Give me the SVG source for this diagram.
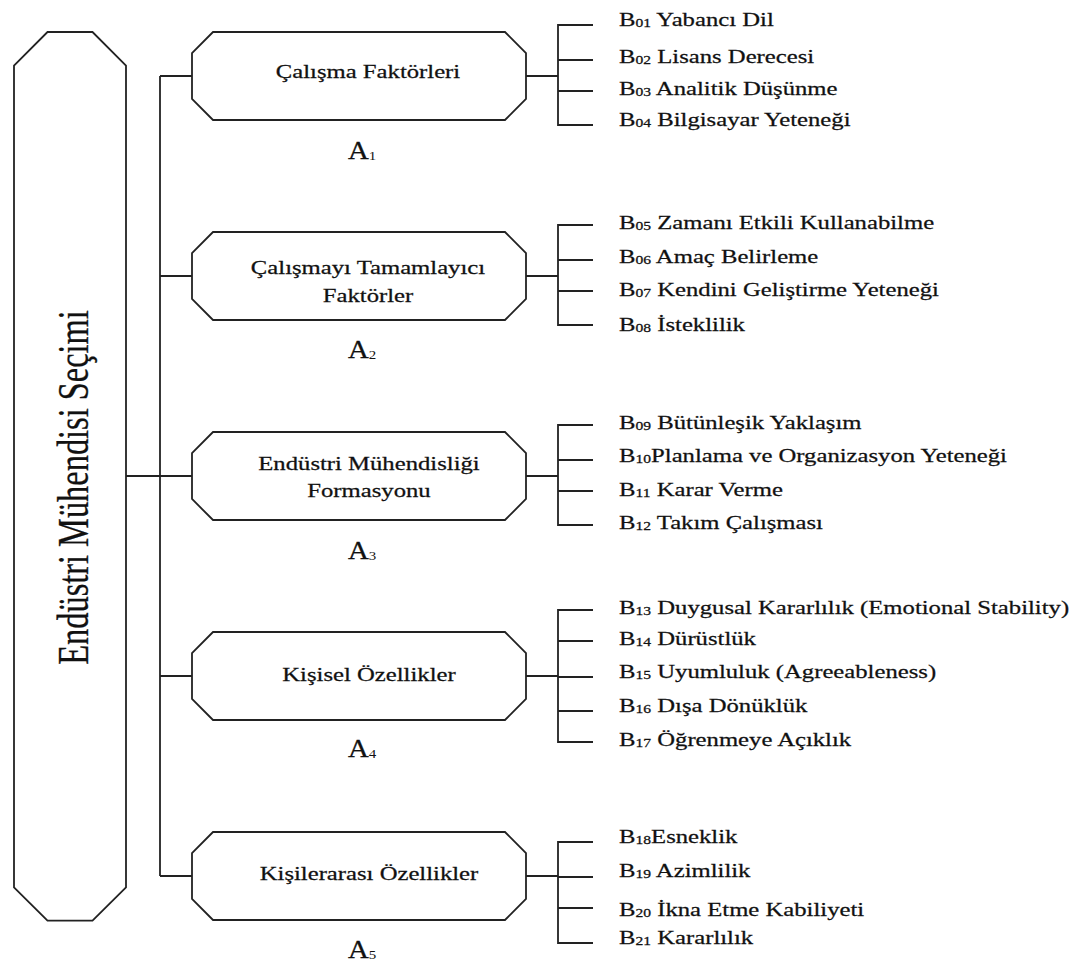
<svg xmlns="http://www.w3.org/2000/svg" xmlns:xlink="http://www.w3.org/1999/xlink" width="1084" height="965" viewBox="0 0 1084 965">
  <style>
    .ln{fill:none;stroke:#222;stroke-width:1.8}
    .box{fill:#fff;stroke:#222;stroke-width:1.8}
    text,tspan{font-family:"Liberation Serif","Times New Roman",serif;fill:#111}
    .t{font-size:19px;stroke:#111;stroke-width:0.25}
    .s{font-size:12px}
    .a{font-size:25px;stroke:#111;stroke-width:0.3}
    .as{font-size:13px}
    .root{font-size:32.4px;stroke:#111;stroke-width:0.2}
  </style>
  <defs>
    <!-- octagonal frame used for every criterion box -->
    <polygon id="oct" points="21,0 313,0 334,21 334,67 313,88 21,88 0,67 0,21"/>
  </defs>
  <rect width="1084" height="965" fill="#fff"/>

  <!-- connectors -->
  <g id="connectors" class="ln">
    <path d="M126 476H160"/>
    <path d="M160 76V876"/>
    <path d="M160 76H192M160 276H192M160 476H192M160 676H192M160 876H192"/>
    <path d="M526 76H558M526 276H558M526 476H558M526 676H558M526 876H558"/>
    <path d="M593 25H558V125H593M558 60H593M558 91H593"/>
    <path d="M593 225H558V325H593M558 260H593M558 291H593"/>
    <path d="M593 425H558V525H593M558 460H593M558 491H593"/>
    <path d="M593 610H558V742H593M558 641H593M558 677H593M558 711H593"/>
    <path d="M593 842H558V943H593M558 877H593M558 908H593"/>
  </g>

  <!-- root -->
  <g id="root">
    <polygon class="box" points="47.5,32 92.5,32 126,65.7 126,887.3 92.5,920.7 47.5,920.7 14,887.3 14,65.7"/>
    <text class="root" text-anchor="middle" transform="translate(88,487.5) scale(1.4,1) rotate(-90)">Endüstri Mühendisi Seçimi</text>
  </g>

  <!-- criteria -->
  <g id="a1">
    <use xlink:href="#oct" class="box" x="192" y="32"/>
    <text class="t" text-anchor="middle" transform="translate(368,78) scale(1.3,1)">Çalışma Faktörleri</text>
    <text transform="translate(348,159) scale(1.15,1)"><tspan class="a">A</tspan><tspan class="as" dy="1">1</tspan></text>
  </g>
  <g id="a2">
    <use xlink:href="#oct" class="box" x="192" y="232"/>
    <text class="t" text-anchor="middle" transform="translate(368,274) scale(1.3,1)">Çalışmayı Tamamlayıcı</text>
    <text class="t" text-anchor="middle" transform="translate(368,302) scale(1.3,1)">Faktörler</text>
    <text transform="translate(348,358) scale(1.15,1)"><tspan class="a">A</tspan><tspan class="as" dy="1">2</tspan></text>
  </g>
  <g id="a3">
    <use xlink:href="#oct" class="box" x="192" y="432"/>
    <text class="t" text-anchor="middle" transform="translate(369,470) scale(1.3,1)">Endüstri Mühendisliği</text>
    <text class="t" text-anchor="middle" transform="translate(369,497) scale(1.3,1)">Formasyonu</text>
    <text transform="translate(348,559) scale(1.15,1)"><tspan class="a">A</tspan><tspan class="as" dy="1">3</tspan></text>
  </g>
  <g id="a4">
    <use xlink:href="#oct" class="box" x="192" y="632"/>
    <text class="t" text-anchor="middle" transform="translate(369,681) scale(1.3,1)">Kişisel Özellikler</text>
    <text transform="translate(348,757) scale(1.15,1)"><tspan class="a">A</tspan><tspan class="as" dy="1">4</tspan></text>
  </g>
  <g id="a5">
    <use xlink:href="#oct" class="box" x="192" y="832"/>
    <text class="t" text-anchor="middle" transform="translate(369,880) scale(1.3,1)">Kişilerarası Özellikler</text>
    <text transform="translate(348,958) scale(1.15,1)"><tspan class="a">A</tspan><tspan class="as" dy="1">5</tspan></text>
  </g>

  <!-- sub-criteria -->
  <g id="b01"><text class="t" transform="translate(619,26) scale(1.3,1)">B<tspan class="s" dy="1">01</tspan><tspan dy="-1"> Yabancı Dil</tspan></text></g>
  <g id="b02"><text class="t" transform="translate(619,63) scale(1.3,1)">B<tspan class="s" dy="1">02</tspan><tspan dy="-1"> Lisans Derecesi</tspan></text></g>
  <g id="b03"><text class="t" transform="translate(619,95) scale(1.3,1)">B<tspan class="s" dy="1">03</tspan><tspan dy="-1"> Analitik Düşünme</tspan></text></g>
  <g id="b04"><text class="t" transform="translate(619,126) scale(1.3,1)">B<tspan class="s" dy="1">04</tspan><tspan dy="-1"> Bilgisayar Yeteneği</tspan></text></g>

  <g id="b05"><text class="t" transform="translate(619,229) scale(1.3,1)">B<tspan class="s" dy="1">05</tspan><tspan dy="-1"> Zamanı Etkili Kullanabilme</tspan></text></g>
  <g id="b06"><text class="t" transform="translate(619,263) scale(1.3,1)">B<tspan class="s" dy="1">06</tspan><tspan dy="-1"> Amaç Belirleme</tspan></text></g>
  <g id="b07"><text class="t" transform="translate(619,296) scale(1.3,1)">B<tspan class="s" dy="1">07</tspan><tspan dy="-1"> Kendini Geliştirme Yeteneği</tspan></text></g>
  <g id="b08"><text class="t" transform="translate(619,331) scale(1.3,1)">B<tspan class="s" dy="1">08</tspan><tspan dy="-1"> İsteklilik</tspan></text></g>

  <g id="b09"><text class="t" transform="translate(619,429) scale(1.3,1)">B<tspan class="s" dy="1">09</tspan><tspan dy="-1"> Bütünleşik Yaklaşım</tspan></text></g>
  <g id="b10"><text class="t" transform="translate(619,462) scale(1.3,1)">B<tspan class="s" dy="1">10</tspan><tspan dy="-1">Planlama ve Organizasyon Yeteneği</tspan></text></g>
  <g id="b11"><text class="t" transform="translate(619,496) scale(1.3,1)">B<tspan class="s" dy="1">11</tspan><tspan dy="-1"> Karar Verme</tspan></text></g>
  <g id="b12"><text class="t" transform="translate(619,529) scale(1.3,1)">B<tspan class="s" dy="1">12</tspan><tspan dy="-1"> Takım Çalışması</tspan></text></g>

  <g id="b13"><text class="t" transform="translate(619,614) scale(1.3,1)">B<tspan class="s" dy="1">13</tspan><tspan dy="-1"> Duygusal Kararlılık (Emotional Stability)</tspan></text></g>
  <g id="b14"><text class="t" transform="translate(619,645) scale(1.3,1)">B<tspan class="s" dy="1">14</tspan><tspan dy="-1"> Dürüstlük</tspan></text></g>
  <g id="b15"><text class="t" transform="translate(619,678) scale(1.3,1)">B<tspan class="s" dy="1">15</tspan><tspan dy="-1"> Uyumluluk (Agreeableness)</tspan></text></g>
  <g id="b16"><text class="t" transform="translate(619,712) scale(1.3,1)">B<tspan class="s" dy="1">16</tspan><tspan dy="-1"> Dışa Dönüklük</tspan></text></g>
  <g id="b17"><text class="t" transform="translate(619,746) scale(1.3,1)">B<tspan class="s" dy="1">17</tspan><tspan dy="-1"> Öğrenmeye Açıklık</tspan></text></g>

  <g id="b18"><text class="t" transform="translate(619,843) scale(1.3,1)">B<tspan class="s" dy="1">18</tspan><tspan dy="-1">Esneklik</tspan></text></g>
  <g id="b19"><text class="t" transform="translate(619,877) scale(1.3,1)">B<tspan class="s" dy="1">19</tspan><tspan dy="-1"> Azimlilik</tspan></text></g>
  <g id="b20"><text class="t" transform="translate(619,916) scale(1.3,1)">B<tspan class="s" dy="1">20</tspan><tspan dy="-1"> İkna Etme Kabiliyeti</tspan></text></g>
  <g id="b21"><text class="t" transform="translate(619,944) scale(1.3,1)">B<tspan class="s" dy="1">21</tspan><tspan dy="-1"> Kararlılık</tspan></text></g>
</svg>
